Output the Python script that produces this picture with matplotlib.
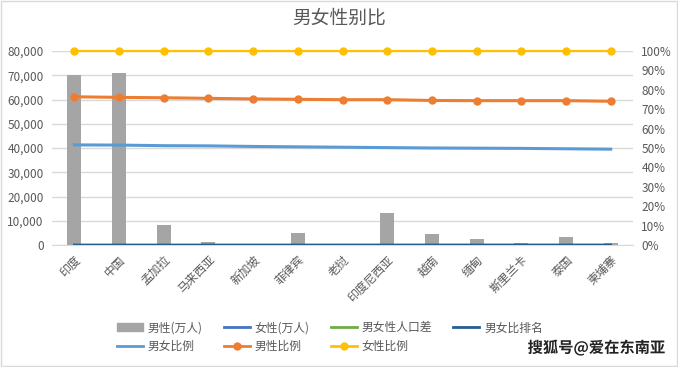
import numpy as np
import matplotlib
matplotlib.use('Agg')
import matplotlib.pyplot as plt
import matplotlib.patheffects as pe
from matplotlib.patches import Patch, Rectangle
from matplotlib.lines import Line2D
from matplotlib.ticker import FuncFormatter, MultipleLocator

plt.rcParams['font.family'] = ['Noto Sans CJK SC', 'DejaVu Sans']

countries = ['印度', '中国', '孟加拉', '马来西亚', '新加坡', '菲律宾', '老挝',
             '印度尼西亚', '越南', '缅甸', '斯里兰卡', '泰国', '柬埔寨']
male = [70300, 71000, 8300, 1300, 300, 5000, 350, 13400, 4600, 2500, 1000, 3200, 800]
female = [66200, 68900, 8200, 1550, 280, 5400, 360, 13300, 4850, 2800, 1100, 3500, 840]
diff = [4100, 2100, 100, 250, 20, 400, 10, 100, 250, 300, 100, 300, 40]
rank = [1, 2, 3, 4, 5, 6, 7, 8, 9, 10, 11, 12, 13]
ratio = [0.516, 0.515, 0.512, 0.511, 0.508, 0.506, 0.504, 0.502, 0.500, 0.499, 0.498, 0.496, 0.494]
male_share = [0.764, 0.761, 0.759, 0.756, 0.753, 0.751, 0.749, 0.749, 0.745, 0.744, 0.744, 0.744, 0.741]
female_share = [1.0] * 13

x = np.arange(len(countries))
txt = '#595959'
grid = '#D9D9D9'

fig = plt.figure(figsize=(6.78, 3.67), dpi=100)
ax = fig.add_axes([52 / 678, 1 - 245 / 367, 581 / 678, 194 / 367])
ax2 = ax.twinx()

ax.bar(x, male, width=0.31, color='#A5A5A5', zorder=2)
ax.plot(x, rank, color='#255E91', lw=2, zorder=3)
# 女性(万人) and 男女性人口差 sit on the percent axis, far above 100%, so they don't show
ax2.plot(x, female, color='#4472C4', lw=2)
ax2.plot(x, diff, color='#70AD47', lw=2)
ax2.plot(x, ratio, color='#5B9BD5', lw=2.2, zorder=3)
ax2.plot(x, male_share, color='#ED7D31', lw=2.2, marker='o', ms=5, zorder=4)
ax2.plot(x, female_share, color='#FFC000', lw=1.6, marker='o', ms=5, zorder=4, clip_on=False)

ax.set_xlim(-0.5, len(countries) - 0.5)
ax.set_ylim(0, 80000)
ax2.set_ylim(0, 1)
ax.yaxis.set_major_locator(MultipleLocator(10000))
ax.yaxis.set_major_formatter(FuncFormatter(lambda v, p: f'{int(v):,}'))
ax2.yaxis.set_major_locator(MultipleLocator(0.1))
ax2.yaxis.set_major_formatter(FuncFormatter(lambda v, p: f'{round(v * 100)}%'))
ax.grid(axis='y', color=grid, lw=1, zorder=0)
ax.set_axisbelow(True)

for a in (ax, ax2):
    for s in a.spines.values():
        s.set_visible(False)
    a.tick_params(length=0, labelsize=8.5, labelcolor=txt)
ax.spines['bottom'].set_visible(True)
ax.spines['bottom'].set_color(grid)
ax.tick_params(axis='y', pad=6)
ax2.tick_params(axis='y', pad=6)

ax.set_xticks(x)
ax.set_xticklabels(countries, rotation=45, ha='right', rotation_mode='anchor', fontsize=8.5)
ax.tick_params(axis='x', pad=6)

fig.text(0.5, 1 - 18 / 367, '男女性别比', ha='center', va='center', fontsize=13.5, color=txt)

handles = [Patch(color='#A5A5A5'),
           Line2D([], [], color='#4472C4', lw=2),
           Line2D([], [], color='#70AD47', lw=2),
           Line2D([], [], color='#255E91', lw=2),
           Line2D([], [], color='#5B9BD5', lw=2),
           Line2D([], [], color='#ED7D31', lw=2, marker='o', ms=5),
           Line2D([], [], color='#FFC000', lw=2, marker='o', ms=5)]
labels = ['男性(万人)', '女性(万人)', '男女性人口差', '男女比排名', '男女比例', '男性比例', '女性比例']
order = [0, 4, 1, 5, 2, 6, 3]
fig.legend([handles[i] for i in order], [labels[i] for i in order], ncol=4,
           loc='center', bbox_to_anchor=(330 / 678, 1 - 337 / 367), frameon=False,
           fontsize=8.5, labelcolor=txt, handlelength=2.2, handletextpad=0.4,
           columnspacing=1.8, labelspacing=0.45)

fig.text(665 / 678, 1 - 348 / 367, '搜狐号@爱在东南亚', ha='right', va='center',
         fontsize=11, fontweight='bold', color='#222222',
         path_effects=[pe.withStroke(linewidth=2.5, foreground='white')])

fig.patches.append(Rectangle((0.001, 0.002), 0.997, 0.996, transform=fig.transFigure,
                             fill=False, edgecolor=grid, lw=1))

fig.savefig('out.png', dpi=100)
